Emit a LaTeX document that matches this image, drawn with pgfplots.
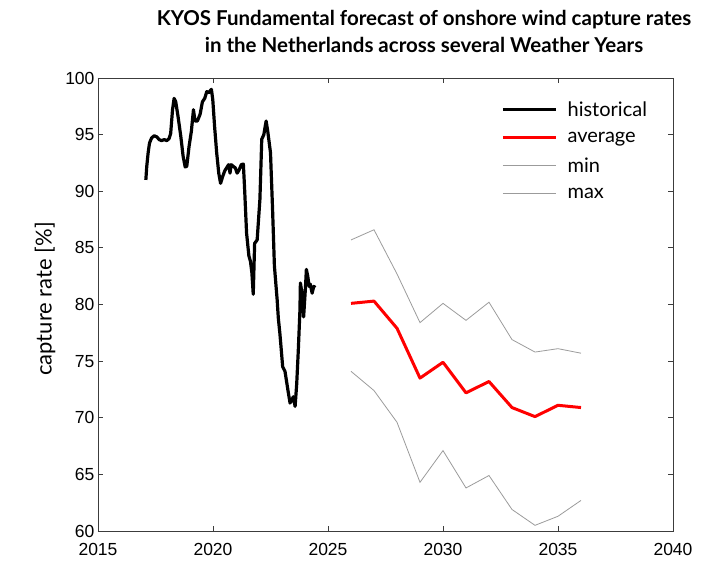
\documentclass[border=0pt]{standalone}
\usepackage{pgfplots}
\pgfplotsset{compat=1.18}
\usepackage{fontspec}
\setmainfont{Liberation Sans}
\newfontfamily\lato{Lato}
\definecolor{minmax}{RGB}{155,155,155}
\definecolor{axgray}{RGB}{60,60,60}

\begin{document}
\begin{tikzpicture}
\begin{axis}[
    at={(0,0)}, anchor=south west,
    scale only axis,
    width=575pt, height=453pt,
    xmin=2015, xmax=2040, ymin=60, ymax=100,
    xtick={2015,2020,...,2040},
    ytick={60,65,...,100},
    tick align=inside,
    major tick length=5pt,
    axis line style={axgray, line width=0.8pt},
    every tick/.style={axgray, line width=0.8pt},
    tick label style={font=\fontsize{17.5}{19}\selectfont},
    xticklabel style={yshift=-9pt},
    /pgf/number format/assume math mode=true,
    /pgf/number format/1000 sep={},
    legend style={draw=none, fill=none, at={(0.696,0.957)}, anchor=north west,
        font=\lato\fontsize{20}{22}\selectfont, row sep=10pt},
    legend cell align=left,
    legend image code/.code={\draw[#1] (0pt,0pt) -- (53pt,0pt);},
]
\addplot[black, line width=3.2pt, line join=round] coordinates {
(2017.08,91.0) (2017.12,92.2) (2017.18,93.4) (2017.24,94.26) (2017.33,94.7)
(2017.44,94.9) (2017.56,94.8) (2017.66,94.56) (2017.76,94.47) (2017.88,94.56)
(2017.99,94.47) (2018.09,94.65) (2018.16,95.1) (2018.24,97.2) (2018.31,98.2)
(2018.38,97.9) (2018.48,96.6) (2018.60,94.85) (2018.70,93.1) (2018.79,92.15)
(2018.86,92.2) (2018.96,93.97) (2019.06,95.3) (2019.15,97.2) (2019.22,96.2)
(2019.32,96.2) (2019.44,96.8) (2019.54,97.9) (2019.64,98.2) (2019.73,98.8)
(2019.81,98.7) (2019.93,99.0) (2019.99,98.1) (2020.07,95.7) (2020.16,93.4)
(2020.25,91.6) (2020.33,90.7) (2020.42,91.3) (2020.51,91.8) (2020.59,92.06)
(2020.68,92.35) (2020.74,91.6) (2020.79,92.35) (2020.88,92.2) (2020.97,92.06)
(2021.05,91.6) (2021.14,91.9) (2021.23,92.35) (2021.32,92.4) (2021.37,90.4)
(2021.46,86.3) (2021.56,84.3) (2021.63,83.8) (2021.69,82.8) (2021.75,80.9)
(2021.81,85.4) (2021.92,85.7) (2022.04,89.3) (2022.12,94.6) (2022.21,95.0)
(2022.31,96.2) (2022.38,95.3) (2022.50,93.4) (2022.59,88.4) (2022.67,83.4)
(2022.79,80.4) (2022.84,78.8) (2022.91,77.4) (2023.03,74.5) (2023.13,74.1)
(2023.28,72.15) (2023.35,71.3) (2023.43,71.6) (2023.49,71.85) (2023.57,71.0)
(2023.64,73.0) (2023.71,76.0) (2023.78,79.5) (2023.80,81.9) (2023.87,81.0)
(2023.94,78.9) (2024.02,81.5) (2024.06,83.1) (2024.12,82.5) (2024.18,81.6)
(2024.23,81.8) (2024.31,81.0) (2024.38,81.6) (2024.45,81.5)
};
\addlegendentry{\hspace{8pt}historical}
\addplot[red, line width=3pt, line join=round] coordinates {
(2026,80.1) (2027,80.3) (2028,77.9) (2029,73.5) (2030,74.9) (2031,72.2)
(2032,73.2) (2033,70.9) (2034,70.1) (2035,71.1) (2036,70.9)
};
\addlegendentry{\hspace{8pt}average}
\addplot[minmax, line width=0.8pt] coordinates {
(2026,74.1) (2027,72.4) (2028,69.6) (2029,64.3) (2030,67.1) (2031,63.8)
(2032,64.9) (2033,61.9) (2034,60.5) (2035,61.3) (2036,62.7)
};
\addlegendentry{\hspace{8pt}min}
\addplot[minmax, line width=0.8pt] coordinates {
(2026,85.7) (2027,86.6) (2028,82.7) (2029,78.4) (2030,80.1) (2031,78.6)
(2032,80.2) (2033,76.9) (2034,75.8) (2035,76.1) (2036,75.7)
};
\addlegendentry{\hspace{8pt}max}
\end{axis}
\node[rotate=90, font=\lato\fontsize{22}{24}\selectfont] at (-53pt,232pt)
  {capture rate [\%]};
\node[align=center, font=\lato\bfseries\fontsize{20.5}{27}\selectfont] at (326pt,500pt)
  {KYOS Fundamental forecast of onshore wind capture rates\\in the Netherlands across several Weather Years};
\pgfresetboundingbox
\path (-98pt,-50pt) rectangle (618pt,531pt);
\end{tikzpicture}
\end{document}
